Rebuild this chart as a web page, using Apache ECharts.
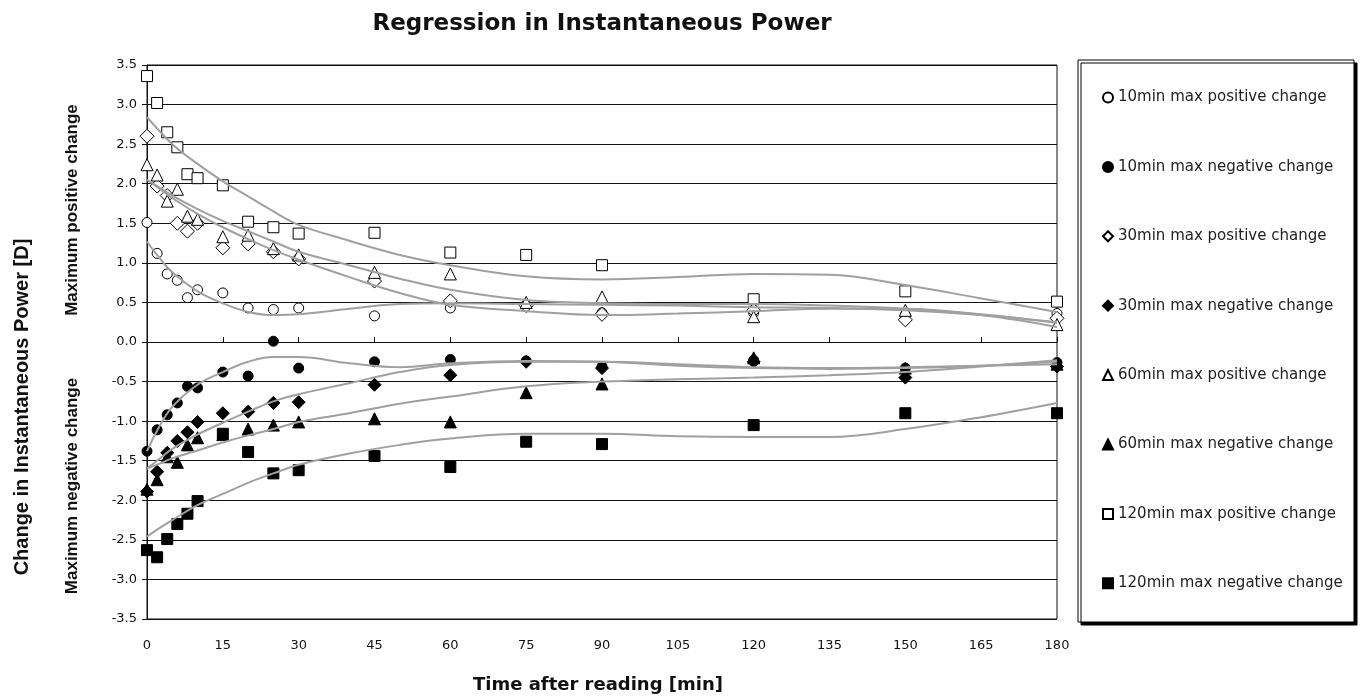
<!DOCTYPE html>
<html>
<head>
<meta charset="utf-8">
<script src="https://cdn.jsdelivr.net/npm/echarts@6/dist/echarts.min.js"></script>
<style>
  html, body { margin: 0; padding: 0; background: #fff; }
  #chart { width: 1361px; height: 696px; }
</style>
</head>
<body>
<div id="chart"></div>
<script>
// time points of the measurements [min]
var times = [0, 2, 4, 6, 8, 10, 15, 20, 25, 30, 45, 60, 75, 90, 120, 150, 180];

// measured values
var pos10 = [1.51, 1.12, 0.86, 0.78, 0.56, 0.66, 0.62, 0.43, 0.41, 0.43, 0.33, 0.43, 0.47, 0.37, 0.37, 0.34, 0.36];
var neg10 = [-1.38, -1.11, -0.92, -0.77, -0.56, -0.58, -0.38, -0.43, 0.01, -0.33, -0.25, -0.22, -0.24, -0.31, -0.23, -0.33, -0.26];
var pos30 = [2.6, 1.97, 1.85, 1.5, 1.40, 1.50, 1.19, 1.24, 1.14, 1.05, 0.77, 0.52, 0.46, 0.35, 0.40, 0.28, 0.30];
var neg30 = [-1.89, -1.64, -1.40, -1.25, -1.14, -1.01, -0.90, -0.88, -0.77, -0.76, -0.54, -0.42, -0.25, -0.33, -0.25, -0.45, -0.31];
var pos60 = [2.24, 2.11, 1.78, 1.93, 1.59, 1.55, 1.33, 1.35, 1.18, 1.10, 0.88, 0.86, 0.50, 0.57, 0.32, 0.40, 0.22];
var neg60 = [-1.86, -1.74, -1.45, -1.52, -1.30, -1.21, -1.17, -1.10, -1.05, -1.01, -0.97, -1.01, -0.64, -0.53, -0.20, -0.33, -0.28];
var pos120 = [3.36, 3.02, 2.65, 2.46, 2.12, 2.07, 1.98, 1.52, 1.45, 1.37, 1.38, 1.13, 1.10, 0.97, 0.54, 0.64, 0.51];
var neg120 = [-2.63, -2.72, -2.49, -2.30, -2.17, -2.01, -1.16, -1.39, -1.66, -1.62, -1.44, -1.58, -1.26, -1.29, -1.05, -0.90, -0.90];

// regression curves
var trendTimes = [0, 2, 5, 10, 15, 20, 25, 30, 40, 50, 60, 75, 90, 105, 120, 135, 150, 165, 180];
var trPos10 = [1.27, 1.10, 0.88, 0.64, 0.49, 0.38, 0.34, 0.35, 0.42, 0.48, 0.49, 0.48, 0.47, 0.46, 0.44, 0.43, 0.40, 0.34, 0.25];
var trPos30 = [2.05, 1.96, 1.82, 1.62, 1.45, 1.30, 1.16, 1.04, 0.82, 0.62, 0.47, 0.39, 0.34, 0.36, 0.39, 0.42, 0.42, 0.34, 0.19];
var trPos60 = [2.05, 1.97, 1.85, 1.68, 1.53, 1.40, 1.27, 1.14, 0.97, 0.80, 0.66, 0.53, 0.49, 0.48, 0.48, 0.46, 0.42, 0.35, 0.24];
var trPos120 = [2.84, 2.70, 2.50, 2.25, 2.03, 1.84, 1.65, 1.48, 1.28, 1.10, 0.97, 0.83, 0.79, 0.82, 0.86, 0.85, 0.72, 0.55, 0.38];
var trNeg10 = [-1.38, -1.12, -0.82, -0.54, -0.38, -0.25, -0.19, -0.19, -0.27, -0.32, -0.27, -0.24, -0.25, -0.30, -0.33, -0.34, -0.33, -0.30, -0.25];
var trNeg30 = [-1.60, -1.50, -1.35, -1.17, -1.02, -0.88, -0.75, -0.66, -0.52, -0.38, -0.29, -0.25, -0.25, -0.28, -0.32, -0.33, -0.32, -0.30, -0.28];
var trNeg60 = [-1.60, -1.55, -1.47, -1.37, -1.27, -1.18, -1.10, -1.01, -0.90, -0.78, -0.69, -0.56, -0.50, -0.47, -0.45, -0.42, -0.38, -0.31, -0.23];
var trNeg120 = [-2.46, -2.37, -2.25, -2.06, -1.92, -1.78, -1.66, -1.55, -1.41, -1.30, -1.22, -1.16, -1.16, -1.19, -1.20, -1.20, -1.10, -0.95, -0.77];

var seriesNames = [
  '10min max positive change', '10min max negative change',
  '30min max positive change', '30min max negative change',
  '60min max positive change', '60min max negative change',
  '120min max positive change', '120min max negative change'
];
var seriesValues = [pos10, neg10, pos30, neg30, pos60, neg60, pos120, neg120];
var trends = [trPos10, trNeg10, trPos30, trNeg30, trPos60, trNeg60, trPos120, trNeg120];
var symbols = ['circle', 'circle', 'diamond', 'diamond', 'triangle', 'triangle', 'rect', 'rect'];
var sizes = [10, 10, 14, 13, 12, 12, 11, 11];

function pairs(xs, ys) {
  return xs.map(function (x, i) { return [x, ys[i]]; });
}

var font = 'DejaVu Sans, sans-serif';
var series = [];

seriesNames.forEach(function (name, i) {
  var open = i % 2 === 0;
  series.push({
    name: name,
    type: 'scatter',
    xAxisIndex: 0,
    symbol: symbols[i],
    symbolSize: sizes[i],
    itemStyle: open
      ? { color: '#fff', borderColor: '#000', borderWidth: 1, opacity: 1 }
      : { color: '#000', borderColor: '#000', borderWidth: 1, opacity: 1 },
    data: pairs(times, seriesValues[i])
  });
});

trends.forEach(function (tr, i) {
  series.push({
    name: 'trend ' + i,
    type: 'line',
    xAxisIndex: 0,
    smooth: 0.4,
    showSymbol: false,
    silent: true,
    lineStyle: { color: '#a0a0a0', width: 2 },
    data: pairs(trendTimes, tr)
  });
});

var chart = echarts.init(document.getElementById('chart'));

var option = {
  backgroundColor: '#fff',
  animation: false,
  title: {
    text: 'Regression in Instantaneous Power',
    left: 597,
    top: 8,
    textAlign: 'center',
    textStyle: { fontFamily: font, fontWeight: 'bold', fontSize: 23, color: '#111' }
  },
  grid: {
    left: 147, right: 304, top: 65, bottom: 77,
    show: true, borderColor: '#111', borderWidth: 1
  },
  legend: {
    orient: 'vertical',
    left: 1097,
    top: 85,
    itemWidth: 10,
    itemHeight: 10,
    itemGap: 54.4,
    data: seriesNames,
    textStyle: { fontFamily: font, fontSize: 15, color: '#222' }
  },
  xAxis: [
    {
      type: 'value',
      min: 0, max: 180, interval: 15,
      axisLine: { show: false, onZero: false },
      axisTick: { show: false },
      splitLine: { show: false },
      axisLabel: { margin: 20, fontFamily: font, fontSize: 13, color: '#111' }
    },
    {
      type: 'value',
      min: 0, max: 180, interval: 15,
      axisLine: { show: true, onZero: true, lineStyle: { color: '#111' } },
      axisTick: { show: true, length: 5, lineStyle: { color: '#111' } },
      splitLine: { show: false },
      axisLabel: { show: false }
    }
  ],
  yAxis: {
    type: 'value',
    min: -3.5, max: 3.5, interval: 0.5,
    axisLine: { show: true, lineStyle: { color: '#111' } },
    axisTick: { show: true, length: 5, lineStyle: { color: '#111' } },
    splitLine: { show: true, lineStyle: { color: '#111', width: 1 } },
    axisLabel: {
      margin: 10,
      fontFamily: font, fontSize: 13, color: '#111',
      formatter: function (v) { return v.toFixed(1); }
    }
  },
  graphic: [
    {
      type: 'rect',
      shape: { x: 1078, y: 60, width: 276, height: 562 },
      style: {
        fill: '#fff', stroke: '#000', lineWidth: 1,
        shadowColor: '#000', shadowOffsetX: 3, shadowOffsetY: 3, shadowBlur: 0
      },
      z: -1
    },
    {
      type: 'text',
      x: 22, y: 407,
      rotation: Math.PI / 2,
      style: {
        text: 'Change in Instantaneous Power [D]',
        font: 'bold 20px Liberation Sans, Arial, sans-serif',
        fill: '#111', textAlign: 'center', textVerticalAlign: 'middle'
      }
    },
    {
      type: 'text',
      x: 72, y: 210,
      rotation: Math.PI / 2,
      style: {
        text: 'Maximum positive change',
        font: 'bold 17px Liberation Sans, Arial, sans-serif',
        fill: '#111', textAlign: 'center', textVerticalAlign: 'middle'
      }
    },
    {
      type: 'text',
      x: 72, y: 486,
      rotation: Math.PI / 2,
      style: {
        text: 'Maximum negative change',
        font: 'bold 17px Liberation Sans, Arial, sans-serif',
        fill: '#111', textAlign: 'center', textVerticalAlign: 'middle'
      }
    },
    {
      type: 'text',
      x: 598, y: 685,
      style: {
        text: 'Time after reading [min]',
        font: 'bold 18px DejaVu Sans, sans-serif',
        fill: '#111', textAlign: 'center', textVerticalAlign: 'middle'
      }
    }
  ],
  series: series
};

chart.setOption(option);
</script>
</body>
</html>
